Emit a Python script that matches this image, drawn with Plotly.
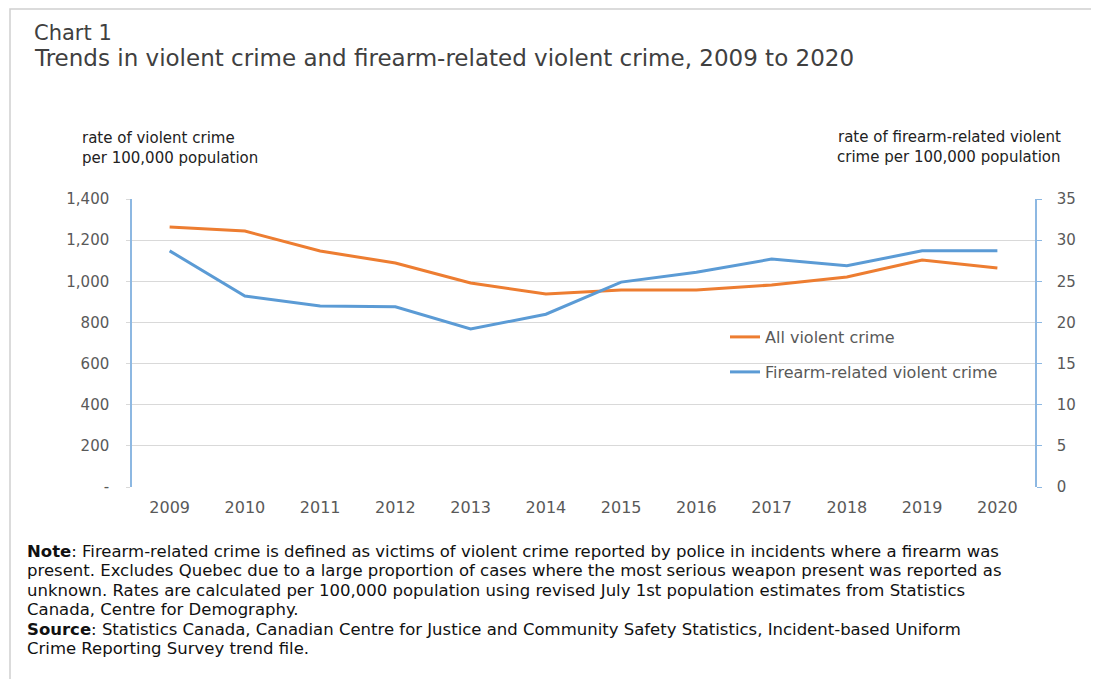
import plotly.graph_objects as go

years = ["2009", "2010", "2011", "2012", "2013", "2014", "2015", "2016", "2017", "2018", "2019", "2020"]
all_violent = [1264, 1244, 1147, 1089, 992, 938, 958, 958, 982, 1021, 1103, 1065]
firearm_violent = [28.7, 23.2, 22.0, 21.9, 19.2, 21.0, 24.9, 26.1, 27.7, 26.9, 28.7, 28.7]

left_ticks = [0, 200, 400, 600, 800, 1000, 1200, 1400]
left_ticktext = ["-", "200", "400", "600", "800", "1,000", "1,200", "1,400"]
right_ticks = [0, 5, 10, 15, 20, 25, 30, 35]

OFF = 8  # page body margin
W, H = 1099 - OFF, 679 - OFF
# target plot area in screen pixels: x 132..1035, y 199..487
L, R, T, B = 132 - OFF, 64, 199 - OFF, 192
PW, PH = W - L - R, H - T - B

def px(x):
    return (x - OFF - L) / PW

def py(y):
    return (H - B - (y - OFF)) / PH

ORANGE = "#ED7D31"
BLUE = "#5B9BD5"
FONT = "DejaVu Sans, Verdana, sans-serif"
TICKC = "#595959"

fig = go.Figure()
fig.add_trace(go.Scatter(x=years, y=all_violent, name="All violent crime", mode="lines",
                         line=dict(color=ORANGE, width=3), yaxis="y", legend="legend"))
fig.add_trace(go.Scatter(x=years, y=firearm_violent, name="Firearm-related violent crime", mode="lines",
                         line=dict(color=BLUE, width=3), yaxis="y2", legend="legend2"))

fig.update_layout(
    width=W, height=H,
    margin=dict(l=L, r=R, t=T, b=B),
    paper_bgcolor="white", plot_bgcolor="white",
    font=dict(family=FONT, color=TICKC, size=14),
    xaxis=dict(type="category", range=[-0.5, 11.5], showgrid=False, showline=False,
               ticks="", tickfont=dict(size=16, color=TICKC), ticklabelstandoff=9),
    yaxis=dict(range=[0, 1400], tickvals=left_ticks, ticktext=left_ticktext,
               showgrid=True, gridcolor="#D9D9D9", gridwidth=1,
               showline=True, linecolor="#8DB8E2", linewidth=1.5,
               ticks="outside", ticklen=4, tickcolor="#D9D9D9",
               tickfont=dict(size=15, color=TICKC), zeroline=False, ticklabelstandoff=14),
    yaxis2=dict(range=[0, 35], tickvals=right_ticks, overlaying="y", side="right",
                showgrid=False, showline=True, linecolor="#8DB8E2", linewidth=1.5,
                ticks="outside", ticklen=5, tickcolor="#8DB8E2",
                tickfont=dict(size=15, color=TICKC), zeroline=False, ticklabelstandoff=12),
    legend=dict(x=px(725), y=py(337), xanchor="left", yanchor="middle",
                bgcolor="rgba(0,0,0,0)", font=dict(size=16, color=TICKC)),
    legend2=dict(x=px(725), y=py(372), xanchor="left", yanchor="middle",
                 bgcolor="rgba(0,0,0,0)", font=dict(size=16, color=TICKC)),
    showlegend=True,
)

def text_at(text, x, y, size, color, family=FONT, xanchor="left"):
    fig.add_annotation(text=text, x=px(x), y=py(y), xref="paper", yref="paper",
                       xanchor=xanchor, yanchor="middle", showarrow=False, align="left",
                       font=dict(family=family, size=size, color=color))

text_at("Chart 1", 32, 33, 21, "#404040")
text_at("Trends in violent crime and firearm-related violent crime, 2009 to 2020", 32, 58, 23, "#404040")
text_at("rate of violent crime", 80, 138, 15, "#222222")
text_at("per 100,000 population", 80, 158, 15, "#222222")
text_at("rate of firearm-related violent", 1063, 137, 15, "#222222", xanchor="right")
text_at("crime per 100,000 population", 1063, 157, 15, "#222222", xanchor="right")

note_lines = [
    "<b>Note</b>: Firearm-related crime is defined as victims of violent crime reported by police in incidents where a firearm was",
    "present. Excludes Quebec due to a large proportion of cases where the most serious weapon present was reported as",
    "unknown. Rates are calculated per 100,000 population using revised July 1st population estimates from Statistics",
    "Canada, Centre for Demography.",
    "<b>Source</b>: Statistics Canada, Canadian Centre for Justice and Community Safety Statistics, Incident-based Uniform",
    "Crime Reporting Survey trend file.",
]
note_y = [551, 570, 590, 609, 629, 648]
for line, yy in zip(note_lines, note_y):
    text_at(line, 25, yy, 16.5, "#111111")

fig.add_shape(type="rect", xref="paper", yref="paper", x0=px(10), x1=px(1120), y0=py(9), y1=py(700),
              line=dict(color="#D0D0D0", width=1.5), fillcolor="rgba(0,0,0,0)", layer="below")

fig.write_html("out.html")
